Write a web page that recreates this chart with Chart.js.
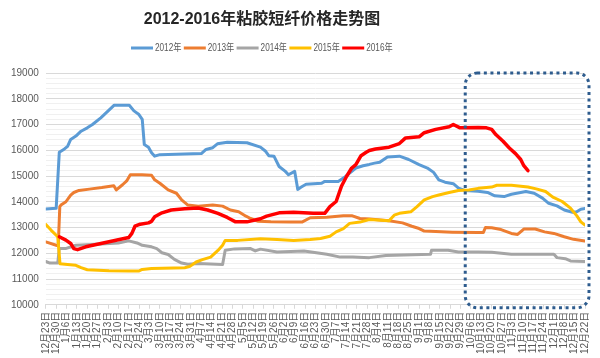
<!DOCTYPE html>
<html><head><meta charset="utf-8">
<script src="https://cdn.jsdelivr.net/npm/chart.js@4/dist/chart.umd.min.js"></script>
<style>html,body{margin:0;padding:0;background:#fff}#wrap{width:600px;height:358px;position:relative}canvas{display:block}</style>
</head><body><div id="wrap"><canvas id="c" width="600" height="358"></canvas></div>
<script>
const chartTitle = '2012-2016年粘胶短纤价格走势图';
const weeks = ['12月23日','12月30日','1月6日','1月13日','1月20日','1月27日','2月3日','2月10日','2月17日','2月24日','3月3日','3月10日','3月17日','3月24日','3月31日','4月7日','4月14日','4月21日','4月28日','5月5日','5月12日','5月19日','5月26日','6月2日','6月9日','6月16日','6月23日','6月30日','7月7日','7月14日','7月21日','7月28日','8月4日','8月11日','8月18日','8月25日','9月1日','9月8日','9月15日','9月22日','9月29日','10月6日','10月13日','10月20日','10月27日','11月3日','11月10日','11月17日','11月24日','12月1日','12月8日','12月15日','12月22日'];
const seriesNames = ['2012年','2013年','2014年','2015年','2016年'];
const seriesColors = ['#5B9BD5','#ED7D31','#A5A5A5','#FFC000','#FF0000'];
// [week position, price]
const s2012 = [[0,13720],[1,13745],[1.3,15920],[1.8,16050],[2.1,16150],[2.4,16420],[2.9,16550],[3.4,16740],[4,16870],[4.5,17000],[5.3,17260],[6.6,17750],[8.05,17750],[8.5,17530],[8.95,17400],[9.3,17200],[9.5,16220],[9.9,16120],[10.2,15900],[10.5,15770],[11,15830],[15,15870],[15.45,16030],[16.1,16100],[16.55,16250],[17.5,16310],[19.4,16290],[20.7,16120],[21.2,15960],[21.5,15790],[22,15770],[22.5,15370],[23.1,15180],[23.4,15050],[24,15180],[24.3,14480],[24.6,14560],[25.1,14680],[26.6,14720],[26.9,14790],[28.2,14790],[28.7,14920],[29.3,15110],[29.9,15310],[30.6,15400],[31.2,15450],[31.7,15500],[32.2,15530],[32.95,15740],[34.1,15770],[35,15640],[36,15440],[36.8,15310],[37.4,15140],[37.9,14850],[38.5,14760],[39.3,14700],[39.8,14530],[40.4,14440],[41.7,14410],[42.6,14360],[43.3,14230],[44.2,14200],[44.9,14290],[46.3,14400],[47.1,14330],[47.9,14140],[48.5,13940],[49.3,13840],[50,13680],[50.8,13590],[51.2,13610],[51.6,13710],[52,13740]];
const s2013 = [[0,12440],[1,12310],[1.2,12290],[1.35,13810],[1.46,13870],[1.94,14000],[2.4,14260],[2.7,14360],[3.2,14440],[4.2,14490],[5.4,14550],[6.56,14620],[6.8,14460],[7.4,14660],[7.8,14810],[8.15,15050],[9.27,15050],[10.2,15030],[10.5,14850],[11,14720],[11.8,14460],[12.6,14330],[13.1,14070],[13.7,13870],[14.7,13830],[16.1,13870],[17.05,13830],[17.8,13680],[18.6,13610],[19.3,13440],[19.75,13350],[20.5,13240],[21.7,13220],[23.6,13210],[24.7,13210],[25.5,13380],[27.1,13400],[28.7,13460],[29.5,13460],[30.3,13350],[31.2,13330],[33.1,13260],[34.4,13180],[35.3,13050],[36,12960],[36.5,12860],[37.6,12840],[39.2,12820],[41.7,12810],[42.2,12810],[42.4,13000],[43,12990],[43.9,12920],[44.9,12770],[45.5,12730],[46.1,12940],[47.2,12940],[48.1,12830],[49,12770],[50,12640],[50.9,12540],[52,12480]];
const s2014 = [[0,11680],[0.4,11620],[1.15,11620],[1.3,12180],[1.9,12180],[2.9,12310],[4.5,12340],[7,12400],[8,12480],[8.8,12400],[9.3,12310],[10.2,12250],[10.7,12180],[11.2,12020],[11.8,11950],[12.4,11760],[13.1,11620],[13.7,11570],[14.7,11600],[17.05,11560],[17.3,12120],[18.2,12170],[19.75,12180],[20.2,12090],[20.7,12160],[22.3,12050],[24.9,12090],[26.1,12020],[27.1,11960],[28.4,11850],[29.6,11850],[31.2,11830],[32.8,11910],[37.1,11960],[37.2,12120],[38.8,12120],[39.8,12050],[41.7,12050],[43,12040],[44.9,11960],[49,11960],[49.3,11830],[50.1,11790],[50.6,11700],[52,11680]];
const s2015 = [[0,13120],[0.5,12900],[1.15,12640],[1.37,11590],[2.1,11560],[2.9,11530],[3.4,11440],[4,11360],[6.1,11320],[8,11310],[8.95,11310],[9.3,11370],[10.2,11410],[13.4,11440],[13.9,11490],[14.5,11660],[15.1,11750],[15.9,11850],[16.6,12110],[17.05,12310],[17.3,12500],[18.5,12500],[20.7,12565],[22.3,12530],[23.9,12500],[25.5,12530],[26.5,12570],[27.4,12660],[28,12830],[28.7,12960],[29.3,13160],[30.3,13210],[31.2,13310],[33.1,13260],[33.6,13480],[34.1,13550],[35.2,13610],[35.8,13810],[36.5,14070],[37.3,14200],[37.9,14260],[38.9,14360],[39.8,14440],[40.8,14460],[41.7,14520],[43,14570],[43.5,14640],[44.9,14640],[46.5,14570],[47.3,14500],[48.2,14400],[48.9,14180],[49.8,14010],[50.6,13750],[51.2,13460],[51.6,13220],[52,13090]];
const s2016 = [[1.3,12640],[1.94,12510],[2.4,12380],[2.7,12180],[3.06,12140],[3.85,12250],[8,12610],[8.3,12770],[8.6,13050],[9.1,13130],[9.9,13180],[10.2,13240],[10.5,13420],[11.2,13570],[12.1,13680],[13.4,13730],[14.7,13760],[15.6,13680],[16.6,13550],[17.5,13390],[18.3,13220],[19.4,13220],[20.7,13340],[21.3,13440],[22.5,13570],[23.9,13590],[25.8,13550],[26.9,13550],[27.4,13810],[28,14010],[28.5,14590],[29,14980],[29.5,15310],[29.9,15440],[30.4,15790],[30.9,15920],[31.2,15990],[31.8,16050],[33.1,16120],[34.1,16260],[34.7,16480],[36,16520],[36.5,16680],[37.6,16810],[38.9,16910],[39.3,17000],[39.95,16870],[41.7,16880],[42.5,16870],[43,16810],[43.4,16610],[44.1,16350],[44.7,16090],[45.3,15870],[45.8,15640],[46.1,15400],[46.5,15210]];
const seriesData = [s2012, s2013, s2014, s2015, s2016];

const FONT = '"Liberation Sans","Noto Sans CJK SC",sans-serif';

const headerPlugin = {
  id: 'header',
  afterDraw(chart) {
    const ctx = chart.ctx;
    ctx.save();
    ctx.fillStyle = '#262626';
    ctx.font = 'bold 16px ' + FONT;
    ctx.textAlign = 'center';
    ctx.textBaseline = 'middle';
    ctx.fillText(chartTitle, 262, 20);
    // legend
    ctx.font = '10px ' + FONT;
    ctx.textAlign = 'left';
    const itemW = 52.8;
    const startX = 262 - (itemW * seriesNames.length) / 2 + 1;
    seriesNames.forEach((n, i) => {
      const x = startX + i * itemW;
      ctx.strokeStyle = seriesColors[i];
      ctx.lineWidth = 3;
      ctx.beginPath(); ctx.moveTo(x, 48); ctx.lineTo(x + 22, 48); ctx.stroke();
      ctx.fillStyle = '#595959';
      ctx.save();
      ctx.translate(x + 24, 48.5);
      ctx.scale(0.82, 1);
      ctx.fillText(n, 0, 0);
      ctx.restore();
    });
    ctx.restore();
  }
};

const boxPlugin = {
  id: 'dottedBox',
  afterDatasetsDraw(chart) {
    const ctx = chart.ctx, xs = chart.scales.x, ys = chart.scales.y, a = chart.chartArea;
    const l = xs.getPixelForValue(40.45), r = a.right + 4;
    const t = ys.getPixelForValue(19000), b = ys.getPixelForValue(10000) + 3;
    const rad = 12;
    ctx.save();
    ctx.strokeStyle = '#2E5C8E';
    ctx.lineWidth = 3;
    ctx.setLineDash([3, 3.6]);
    ctx.beginPath();
    ctx.moveTo(l + rad, t);
    ctx.lineTo(r - rad, t); ctx.arcTo(r, t, r, t + rad, rad);
    ctx.lineTo(r, b - rad); ctx.arcTo(r, b, r - rad, b, rad);
    ctx.lineTo(l + rad, b); ctx.arcTo(l, b, l, b - rad, rad);
    ctx.lineTo(l, t + rad); ctx.arcTo(l, t, l + rad, t, rad);
    ctx.closePath();
    ctx.stroke();
    ctx.restore();
  }
};

new Chart(document.getElementById('c'), {
  type: 'line',
  data: {
    datasets: seriesNames.map((n, i) => ({
      label: n,
      data: seriesData[i].map(p => ({x: p[0], y: p[1]})),
      borderColor: seriesColors[i],
      backgroundColor: seriesColors[i],
      borderWidth: i === 4 ? 3.5 : 3,
      pointRadius: 0,
      tension: 0,
      borderJoinStyle: 'round',
      borderCapStyle: 'round',
      order: 5 - i
    }))
  },
  options: {
    responsive: false,
    animation: false,
    events: [],
    layout: {padding: {top: 73, left: 4, right: 12, bottom: 1}},
    plugins: {legend: {display: false}, title: {display: false}, tooltip: {enabled: false}},
    scales: {
      x: {
        type: 'linear', min: 0, max: 52,
        grid: {drawOnChartArea: false, drawTicks: true, tickLength: 4, color: '#d9d9d9'},
        border: {color: '#d9d9d9'},
        ticks: {
          stepSize: 1, autoSkip: false, maxTicksLimit: 1000,
          minRotation: 90, maxRotation: 90, padding: 3,
          color: '#595959', font: {size: 10, family: FONT},
          callback: v => weeks[Math.round(v)]
        }
      },
      y: {
        min: 10000, max: 19000,
        grid: {drawTicks: false, color: c => (c.tick && c.tick.value % 1000 === 0) ? '#d9d9d9' : '#f0f0f0'},
        border: {display: false},
        ticks: {
          stepSize: 200, autoSkip: false, maxTicksLimit: 1000, padding: 7,
          color: '#595959', font: {size: 10, family: FONT},
          callback: v => (v % 1000 === 0 ? String(v) : '')
        }
      }
    }
  },
  plugins: [headerPlugin, boxPlugin]
});
</script>
</body></html>
